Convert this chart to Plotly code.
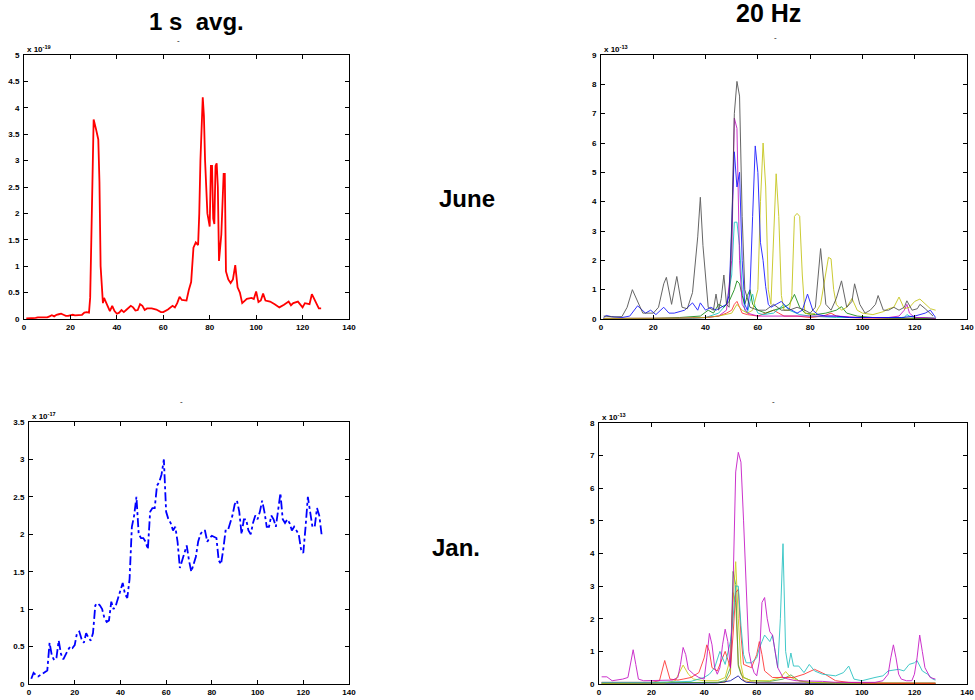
import plotly.graph_objects as go

# ---------------- DATA ----------------
# Top-left: June, 1 s avg (units of 1e-19)
jun_avg_x = [1,2,3,4,5,6,7,8,9,10,11,12,13,14,15,16,17,18,19,20,21,22,23,24,25,26,27,28,28.5,29,29.5,30,31,32,32.5,33,34,34.5,35,36,37,38,39,40,41,42,43,44,45,46,47,48,49,50,51,52,53,55,57,59,60,62,64,65,66,67,68,70,71,72,73,74,75,75.5,76,76.5,77,77.5,78,79,80,80.5,81,81.5,82,82.5,83,83.5,84,85,85.5,86,86.5,87,88,89,90,91,92,93,94,95,96,98,99,100,101,102,103,104,106,108,110,112,114,115,116,118,120,121,123,124,125,126,127,128]
jun_avg_y = [0.01,0.01,0.01,0.02,0.02,0.03,0.03,0.03,0.04,0.03,0.05,0.07,0.05,0.08,0.09,0.1,0.08,0.06,0.06,0.07,0.08,0.07,0.07,0.07,0.08,0.12,0.13,0.12,0.4,1.5,2.6,3.78,3.6,3.4,2.6,1.0,0.3,0.4,0.35,0.25,0.15,0.25,0.15,0.1,0.12,0.17,0.13,0.17,0.22,0.25,0.22,0.16,0.17,0.28,0.25,0.17,0.2,0.2,0.18,0.13,0.13,0.18,0.25,0.22,0.3,0.42,0.36,0.35,0.55,0.7,1.35,1.45,1.4,2.0,3.0,3.8,4.2,3.85,3.0,2.0,1.75,2.9,2.9,1.9,1.8,2.9,2.95,2.5,1.1,1.6,2.3,2.75,2.75,0.9,0.75,0.68,0.75,1.02,0.6,0.5,0.3,0.35,0.38,0.4,0.38,0.52,0.32,0.35,0.48,0.35,0.33,0.28,0.22,0.27,0.33,0.26,0.3,0.33,0.22,0.3,0.28,0.47,0.38,0.3,0.2,0.2]

# Bottom-left: Jan., 1 s avg (units of 1e-17)
jan_avg_x = list(range(1, 129))
jan_avg_y = [0.07,0.15,0.12,0.1,0.12,0.14,0.15,0.18,0.55,0.38,0.32,0.35,0.58,0.4,0.33,0.4,0.45,0.5,0.48,0.52,
             0.68,0.7,0.6,0.55,0.68,0.62,0.58,0.68,1.05,1.08,1.05,1.0,0.88,0.83,0.85,1.1,1.0,1.05,1.15,1.25,
             1.35,1.2,1.15,1.4,2.1,2.25,2.5,2.0,1.95,1.95,1.9,1.8,2.3,2.35,2.35,2.65,2.7,2.8,3.0,2.3,
             2.2,2.15,2.05,2.1,1.9,1.55,1.65,1.75,1.85,1.65,1.5,1.6,1.7,1.9,2.0,2.05,2.05,1.9,1.95,1.98,
             1.96,1.95,1.65,1.6,1.8,2.05,2.05,2.15,2.25,2.4,2.45,2.3,2.0,2.2,2.2,2.05,2.0,2.15,2.25,2.2,
             2.3,2.45,2.3,2.1,2.1,2.25,2.2,2.1,2.3,2.55,2.2,2.15,2.2,2.15,2.05,2.1,2.05,2.0,1.8,1.75,
             2.1,2.5,2.3,2.1,2.1,2.35,2.25,2.0]

# Top-right: June, 20 Hz (units of 1e-13)
jun_black_x = [1,3,5,8,10,12,14,16,20,22,24,25,27,29,31,33,35,37,38,39,41,43,44,45,46,47,48,49,50,51,52,53,54,55,57,60,63,66,69,72,75,78,80,82,84,86,88,90,92,94,96,97,99,101,103,105,106,108,110,112,114,116,117,119,121,122,124,126,127]
jun_black_y = [0.1,0.08,0.07,0.08,0.4,1.0,0.6,0.2,0.2,0.4,1.2,1.42,0.5,1.45,0.4,0.35,0.9,2.8,4.15,2.5,0.4,0.3,0.85,0.3,0.7,1.5,0.5,0.4,3.0,7.0,8.1,7.6,3.5,1.0,0.4,0.3,0.3,0.5,0.3,0.3,0.4,0.3,0.2,0.4,2.4,0.5,0.3,0.7,1.3,0.4,0.6,1.2,0.5,0.2,0.3,0.5,0.8,0.3,0.3,0.4,0.3,0.4,0.62,0.3,0.35,0.5,0.35,0.2,0.1]
jun_blue_x = [1,2,4,8,11,14,17,19,21,24,26,28,32,35,37,38,40,42,44,46,48,49,50,51,52,53,54,55,56,57,58,59,60,61,62,63,64,65,67,69,71,73,75,77,79,81,83,86,90,95,100,105,110,115,120,124,126,128]
jun_blue_y = [0.05,0.12,0.08,0.05,0.1,0.45,0.2,0.3,0.15,0.4,0.2,0.2,0.3,0.55,0.3,0.55,0.3,0.4,0.3,0.4,0.5,0.8,3.0,5.7,4.5,5.0,2.0,0.5,0.3,1.0,3.5,5.9,5.0,2.6,2.0,1.1,0.5,0.4,0.5,0.6,0.4,0.3,0.2,0.3,0.85,0.3,0.15,0.1,0.1,0.05,0.05,0.05,0.05,0.05,0.1,0.2,0.3,0.05]
jun_yellow_x = [1,10,20,30,40,45,50,52,54,56,58,60,61,62,63,64,65,66,67,68,69,70,72,73,74,75,76,77,78,80,82,84,86,87,88,89,90,92,94,96,98,100,104,108,110,112,114,116,118,120,122,124,126,128]
jun_yellow_y = [0.02,0.02,0.02,0.03,0.05,0.1,0.2,0.5,0.3,0.2,0.3,1.0,4.0,6.0,4.5,1.0,0.5,2.5,4.95,3.5,0.8,0.3,0.3,0.8,3.5,3.6,3.5,1.5,0.2,0.15,0.2,0.5,1.5,2.1,2.05,1.0,0.5,0.3,0.4,0.7,0.3,0.2,0.15,0.25,0.35,0.4,0.75,0.35,0.4,0.6,0.68,0.5,0.35,0.3]
jun_magenta_x = [1,10,20,30,40,45,48,50,51,52,53,54,56,60,70,80,90,100,110,114,116,117,118,120,124,128]
jun_magenta_y = [0.02,0.02,0.02,0.03,0.05,0.1,0.3,2.0,6.85,6.5,2.0,0.5,0.2,0.1,0.1,0.1,0.1,0.05,0.05,0.1,0.3,0.5,0.2,0.05,0.05,0.02]
jun_green_x = [1,20,30,38,41,43,45,47,49,51,52,53,54,55,56,57,58,60,63,66,70,72,74,76,78,82,86,90,92,94,98,104,110,120,128]
jun_green_y = [0.02,0.02,0.05,0.1,0.3,0.2,0.5,0.4,0.6,1.0,1.3,1.2,0.8,0.5,0.8,1.0,0.5,0.3,0.2,0.3,0.4,0.5,0.84,0.4,0.2,0.15,0.2,0.3,0.42,0.2,0.1,0.05,0.03,0.03,0.02]
jun_cyan_x = [1,20,35,40,45,48,50,51,52,53,54,55,56,57,58,59,60,62,66,70,72,76,80,90,100,110,116,117,118,120,128]
jun_cyan_y = [0.01,0.01,0.02,0.05,0.2,0.5,1.5,3.3,3.3,2.5,1.0,0.3,0.2,0.6,0.85,0.4,0.2,0.15,0.2,0.5,0.3,0.15,0.1,0.05,0.05,0.05,0.05,0.15,0.1,0.05,0.03]
jun_red_x = [1,20,30,40,45,48,50,51,52,53,54,56,60,63,66,68,70,75,80,85,88,90,95,100,110,120,128]
jun_red_y = [0.01,0.01,0.02,0.05,0.1,0.2,0.3,0.5,0.6,0.4,0.2,0.15,0.1,0.2,0.3,0.2,0.1,0.1,0.05,0.1,0.2,0.1,0.05,0.03,0.02,0.02,0.02]

# Bottom-right: Jan., 20 Hz (units of 1e-13)
jan_magenta_x = [1,3,5,7,9,11,12,13,14,15,17,20,25,28,30,31,32,33,34,36,38,40,41,42,43,44,45,46,47,48,49,50,51,52,53,54,55,56,57,58,59,60,61,62,63,64,65,66,67,68,70,72,75,80,85,90,95,100,105,108,110,111,112,113,114,115,117,119,120,121,122,123,124,126,128]
jan_magenta_y = [0.22,0.22,0.1,0.12,0.15,0.2,0.6,1.05,0.6,0.15,0.1,0.1,0.1,0.12,0.2,0.6,1.12,0.9,0.45,0.3,0.2,0.15,0.8,1.55,1.2,0.5,0.3,0.5,1.2,1.68,1.3,0.5,3.0,6.5,7.1,6.8,5.0,3.0,1.0,0.6,0.35,0.25,0.7,2.5,2.65,2.0,1.6,1.5,1.0,0.5,0.2,0.15,0.1,0.1,0.08,0.05,0.05,0.05,0.05,0.1,0.3,0.8,1.2,0.8,0.3,0.15,0.1,0.1,0.3,0.8,1.5,1.0,0.5,0.2,0.15]
jan_cyan_x = [1,20,35,40,42,44,46,48,50,51,52,53,54,55,56,58,60,61,62,63,65,66,67,68,69,70,71,72,73,74,76,78,80,82,85,90,93,95,97,100,105,108,110,114,116,118,120,121,123,125,127,128]
jan_cyan_y = [0.05,0.05,0.08,0.2,0.3,0.5,1.0,0.6,1.3,2.0,3.0,3.0,1.8,0.9,0.65,0.65,0.8,1.1,1.3,1.5,1.3,1.5,1.0,0.5,2.0,4.3,1.0,0.5,0.95,0.55,0.55,0.35,0.6,0.4,0.3,0.25,0.35,0.55,0.15,0.1,0.2,0.25,0.4,0.45,0.4,0.6,0.65,0.72,0.4,0.3,0.15,0.12]
jan_red_x = [1,20,23,25,27,30,32,35,38,40,41,42,43,45,48,50,51,52,53,54,55,58,60,61,62,63,66,70,74,78,82,86,90,95,100,110,120,128]
jan_red_y = [0.05,0.05,0.1,0.72,0.15,0.12,0.15,0.2,0.35,0.8,1.2,1.0,0.5,0.4,1.0,0.5,1.5,2.8,2.9,1.5,0.6,0.5,0.9,1.3,0.9,0.4,0.2,0.2,0.2,0.3,0.45,0.3,0.1,0.05,0.03,0.02,0.02,0.02]
jan_yellow_x = [1,25,29,32,34,36,40,45,48,50,51,52,53,54,55,58,65,69,71,73,76,80,90,110,128]
jan_yellow_y = [0.02,0.03,0.1,0.58,0.3,0.15,0.1,0.1,0.2,0.8,2.5,3.75,2.0,0.6,0.2,0.1,0.1,0.2,0.38,0.2,0.1,0.05,0.03,0.02,0.02]
jan_green_x = [1,30,40,45,48,50,51,52,53,54,55,58,65,70,73,76,80,90,110,128]
jan_green_y = [0.03,0.03,0.05,0.05,0.1,0.5,3.45,3.05,0.55,0.3,0.2,0.1,0.08,0.15,0.28,0.1,0.05,0.03,0.02,0.02]
jan_blue_x = [1,30,45,50,52,53,54,56,60,70,80,90,128]
jan_blue_y = [0.02,0.02,0.03,0.1,0.2,0.25,0.15,0.05,0.03,0.02,0.02,0.02,0.02]
jan_orange_x = [1,40,48,50,51,52,53,55,60,80,100,128]
jan_orange_y = [0.03,0.03,0.05,0.3,2.8,2.5,0.6,0.1,0.04,0.03,0.03,0.03]

titles = ["1 s  avg.", "20 Hz"]
row_labels = ["June", "Jan."]
exponents = ["-19", "-13", "-17", "-13"]

# ---------------- FIGURE ----------------
fig = go.Figure()
FONT = "Liberation Sans, Arial, sans-serif"

def add(x, y, color, ax, width=1.0, dash="solid", opacity=1.0):
    fig.add_trace(go.Scatter(x=x, y=y, mode="lines", xaxis="x" + ax, yaxis="y" + ax,
                             line=dict(color=color, width=width, dash=dash),
                             opacity=opacity, showlegend=False, hoverinfo="skip"))

# panel 1 (top-left)
add(jun_avg_x, jun_avg_y, "#FF0000", "", width=1.8)
# panel 2 (top-right)
add(jun_red_x, jun_red_y, "#FF0000", "2", opacity=0.7)
add(jun_cyan_x, jun_cyan_y, "#00BFBF", "2", opacity=0.8)
add(jun_green_x, jun_green_y, "#008000", "2", opacity=0.8)
add(jun_magenta_x, jun_magenta_y, "#BF00BF", "2", opacity=0.8)
add(jun_yellow_x, jun_yellow_y, "#BFBF00", "2", opacity=0.8)
add(jun_blue_x, jun_blue_y, "#0000FF", "2", opacity=0.8)
add(jun_black_x, jun_black_y, "#404040", "2", opacity=0.8)
# panel 3 (bottom-left)
add(jan_avg_x, jan_avg_y, "#0000FF", "3", width=1.8, dash="dashdot")
# panel 4 (bottom-right)
add(jan_orange_x, jan_orange_y, "#D08000", "4", opacity=0.8)
add(jan_blue_x, jan_blue_y, "#0000A0", "4", opacity=0.8)
add(jan_green_x, jan_green_y, "#3CA03C", "4", opacity=0.8)
add(jan_yellow_x, jan_yellow_y, "#C8C800", "4", opacity=0.8)
add(jan_red_x, jan_red_y, "#FF2020", "4", opacity=0.8)
add(jan_cyan_x, jan_cyan_y, "#20C0C0", "4", opacity=0.85)
add(jan_magenta_x, jan_magenta_y, "#C000C0", "4", opacity=0.8)

W, H = 975, 700
def px(x0, x1):
    return [x0 / W, x1 / W]
def py(y0, y1):
    return [1 - y1 / H, 1 - y0 / H]

tickfont = dict(family=FONT, size=8, color="black", weight="bold")
common = dict(showline=True, mirror="ticks", linecolor="black", linewidth=1,
              ticks="inside", ticklen=4, tickcolor="black", showgrid=False,
              zeroline=False, tickfont=tickfont, fixedrange=True, automargin=False)

panels = [
    ("", px(24, 349), py(55, 319), 5, 0.5, "x", "y"),
    ("2", px(601, 967), py(55, 319), 9, 1, "x2", "y2"),
    ("3", px(29, 349), py(422, 684), 3.5, 0.5, "x3", "y3"),
    ("4", px(599, 967), py(423, 684), 8, 1, "x4", "y4"),
]
for key, xd, yd, ymax, dy, xa, ya in panels:
    fig.update_layout(**{
        "xaxis" + key: dict(domain=xd, anchor=ya, range=[0, 140], dtick=20, tick0=0, **common),
        "yaxis" + key: dict(domain=yd, anchor=xa, range=[0, ymax], dtick=dy, tick0=0,
                            ticklabelstandoff=2, **common),
    })

annotations = []
# exponent labels
for (key, xd, yd, *_), ex in zip(panels, exponents):
    annotations.append(dict(text="x 10<sup>" + ex + "</sup>", x=xd[0], y=yd[1],
                            xref="paper", yref="paper", xanchor="left", yanchor="bottom",
                            showarrow=False, font=dict(family=FONT, size=8, color="black", weight="bold"),
                            xshift=1, yshift=-1))

def label(text, cx, cy, size, weight="bold"):
    annotations.append(dict(text=text, x=cx / W, y=1 - cy / H, xref="paper", yref="paper",
                            xanchor="center", yanchor="middle", showarrow=False,
                            font=dict(family=FONT, size=size, color="black", weight=weight)))

# column titles
label(titles[0], 196, 21, 24)
label(titles[1], 768, 13, 25)
# row labels
label(row_labels[0], 467, 199, 24)
label(row_labels[1], 456, 547, 24)
# small dash titles
for (dx, dyy) in [(178, 40), (775, 38), (181, 401), (773, 401)]:
    label("-", dx, dyy, 8, weight="normal")

fig.update_layout(width=W, height=H, margin=dict(l=0, r=0, t=0, b=0),
                  paper_bgcolor="white", plot_bgcolor="white", annotations=annotations,
                  showlegend=False)

fig.write_html("out.html")
